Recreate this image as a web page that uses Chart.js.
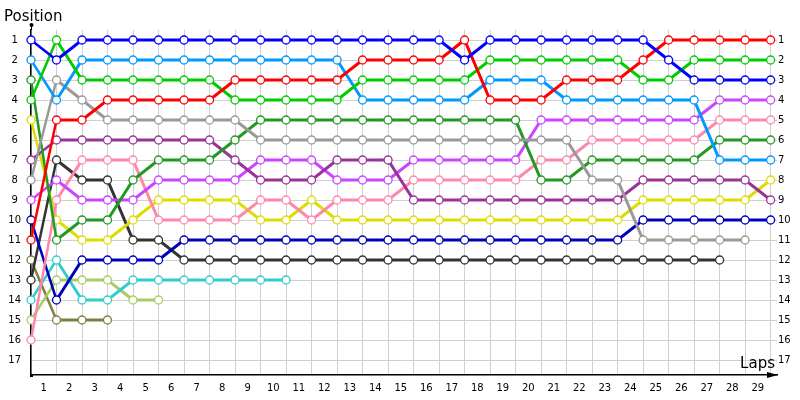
<!DOCTYPE html>
<html>
<head>
<meta charset="utf-8">
<title>Lap chart</title>
<script src="https://cdn.jsdelivr.net/npm/chart.js@4.4.1/dist/chart.umd.min.js"></script>
<style>
  html, body { margin: 0; padding: 0; background: #fff; }
  #wrap { width: 800px; height: 400px; }
</style>
</head>
<body>
<div id="wrap"><canvas id="chart" width="800" height="400"></canvas></div>
<script>
// laps 0..29 and positions 1..17
const lapTicks = [0,1,2,3,4,5,6,7,8,9,10,11,12,13,14,15,16,17,18,19,20,21,22,23,24,25,26,27,28,29];
const posTicks = [1,2,3,4,5,6,7,8,9,10,11,12,13,14,15,16,17];

// position of each car per lap, starting at lap 0 (grid)
const carBlue      = [1,2,1,1,1,1,1,1,1,1,1,1,1,1,1,1,1,2,1,1,1,1,1,1,1,2,3,3,3,3];
const carRed       = [11,5,5,4,4,4,4,4,3,3,3,3,3,2,2,2,2,1,4,4,4,3,3,3,2,1,1,1,1,1];
const carGreen     = [4,1,3,3,3,3,3,3,4,4,4,4,4,3,3,3,3,3,2,2,2,2,2,2,3,3,2,2,2,2];
const carSky       = [2,4,2,2,2,2,2,2,2,2,2,2,2,4,4,4,4,4,3,3,3,4,4,4,4,4,4,7,7,7];
const carGray      = [8,3,4,5,5,5,5,5,5,6,6,6,6,6,6,6,6,6,6,6,6,6,8,8,11,11,11,11,11];
const carDarkGreen = [3,11,10,10,8,7,7,7,6,5,5,5,5,5,5,5,5,5,5,5,8,8,7,7,7,7,7,6,6,6];
const carPurple    = [7,6,6,6,6,6,6,6,7,8,8,8,7,7,7,9,9,9,9,9,9,9,9,9,8,8,8,8,8,9];
const carViolet    = [9,8,9,9,9,8,8,8,8,7,7,7,8,8,8,7,7,7,7,7,5,5,5,5,5,5,5,4,4,4];
const carPink      = [16,9,7,7,7,10,10,10,10,9,9,10,9,9,9,8,8,8,8,8,7,7,6,6,6,6,6,5,5,5];
const carYellow    = [5,10,11,11,10,9,9,9,9,10,10,9,10,10,10,10,10,10,10,10,10,10,10,10,9,9,9,9,9,8];
const carNavy      = [10,14,12,12,12,12,11,11,11,11,11,11,11,11,11,11,11,11,11,11,11,11,11,11,10,10,10,10,10,10];
const carBlack     = [13,7,8,8,11,11,12,12,12,12,12,12,12,12,12,12,12,12,12,12,12,12,12,12,12,12,12,12];
const carTeal      = [14,12,14,14,13,13,13,13,13,13,13];
const carLime      = [15,13,13,13,14,14];
const carOlive     = [12,15,15,15];

const cars = [
    [carBlue, '#0000ff'],
    [carRed, '#ff0000'],
    [carGreen, '#00cc00'],
    [carSky, '#0099ff'],
    [carGray, '#999999'],
    [carDarkGreen, '#229922'],
    [carPurple, '#993399'],
    [carViolet, '#cc44ff'],
    [carPink, '#ff88aa'],
    [carYellow, '#dddd00'],
    [carNavy, '#0000bb'],
    [carBlack, '#333333'],
    [carTeal, '#33cccc'],
    [carLime, '#aacc66'],
    [carOlive, '#808040']
];

const datasets = cars.map(([pos, color]) => ({
    data: pos.map((p, i) => ({ x: lapTicks[i], y: p })),
    borderColor: color,
    backgroundColor: '#ffffff',
    borderWidth: 3,
    tension: 0,
    clip: false,
    pointRadius: 4,
    pointBorderWidth: 1.3,
    pointBackgroundColor: '#ffffff',
    pointBorderColor: color,
    segment: {
        borderWidth: ctx => ctx.p0DataIndex === 0 ? 2.5 : 3
    }
}));

// axis arrows and titles
const decorations = {
    id: 'decorations',
    afterDraw(chart) {
        const ctx = chart.ctx;
        const a = chart.chartArea;
        ctx.save();
        ctx.strokeStyle = '#000';
        ctx.fillStyle = '#000';
        ctx.lineWidth = 1;
        ctx.beginPath();
        ctx.moveTo(a.left + 0.5, a.top);
        ctx.lineTo(a.left + 0.5, a.top - 5);
        ctx.stroke();
        ctx.beginPath();
        ctx.arc(a.left + 0.5, a.top - 5, 2, 0, Math.PI * 2);
        ctx.fill();
        ctx.fillRect(a.left - 1, a.bottom - 1, 3, 3);
        ctx.beginPath();
        ctx.moveTo(a.right + 1, a.bottom);
        ctx.lineTo(a.right - 10, a.bottom - 3);
        ctx.lineTo(a.right - 10, a.bottom + 3);
        ctx.closePath();
        ctx.fill();

        ctx.font = '15px "DejaVu Sans"';
        ctx.textBaseline = 'alphabetic';
        ctx.textAlign = 'left';
        ctx.fillText('Position', 4, 21);
        ctx.textAlign = 'right';
        ctx.fillText('Laps', 775, 368);
        ctx.restore();
    }
};

const tickFont = { family: 'DejaVu Sans', size: 10 };

new Chart(document.getElementById('chart'), {
    type: 'line',
    data: { datasets: datasets },
    options: {
        responsive: false,
        animation: false,
        devicePixelRatio: 1,
        layout: { padding: { top: 30, left: 0, right: 0, bottom: 0 } },
        plugins: {
            legend: { display: false },
            tooltip: { enabled: false }
        },
        scales: {
            x: {
                type: 'linear',
                min: 0,
                max: 29.25,
                afterBuildTicks: axis => { axis.ticks = lapTicks.map(v => ({ value: v })); },
                afterFit: axis => { axis.height = 25; },
                grid: { color: '#d0d0d0', drawTicks: false },
                border: { color: '#000', width: 1.5 },
                ticks: {
                    font: tickFont,
                    color: '#000',
                    padding: 7,
                    labelOffset: -12.8,
                    maxRotation: 0,
                    autoSkip: false,
                    callback: v => v >= 1 ? String(v) : ''
                }
            },
            y: {
                type: 'linear',
                position: 'left',
                reverse: true,
                min: 0.5,
                max: 17.75,
                afterBuildTicks: axis => { axis.ticks = posTicks.map(v => ({ value: v })); },
                afterFit: axis => { axis.width = 31; },
                grid: { color: '#d0d0d0', drawTicks: false },
                border: { color: '#000', width: 1.5 },
                ticks: {
                    font: tickFont,
                    color: '#000',
                    padding: 10,
                    crossAlign: 'center',
                    autoSkip: false
                }
            },
            y2: {
                type: 'linear',
                position: 'right',
                reverse: true,
                min: 0.5,
                max: 17.75,
                afterBuildTicks: axis => { axis.ticks = posTicks.map(v => ({ value: v })); },
                afterFit: axis => { axis.width = 23; },
                grid: { display: false, drawTicks: false },
                border: { display: false },
                ticks: {
                    font: tickFont,
                    color: '#000',
                    padding: 1,
                    autoSkip: false
                }
            }
        }
    },
    plugins: [decorations]
});
</script>
</body>
</html>
